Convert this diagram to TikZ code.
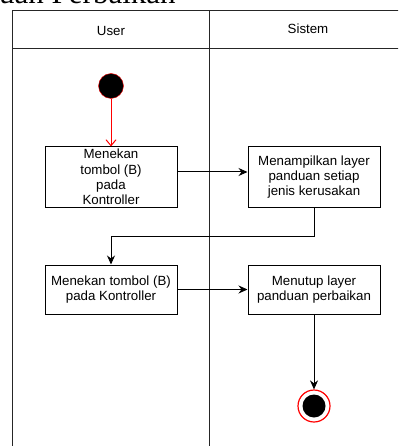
\documentclass[tikz,border=0pt]{standalone}
\usepackage{fontspec}
\setmainfont{Liberation Sans}
\newfontfamily\headfont{Liberation Serif}
\usetikzlibrary{arrows.meta}

\tikzset{
	actbox/.style = {draw = black,
					 line width = 1pt,
					 shape = rectangle,
					 minimum width = 132pt,
					 inner sep = 0pt,
					 align = center,
					 font = \fontsize{13.3}{15.2}\selectfont
					},
	lane/.style = {draw = black!85, line width = 1pt},
	flow/.style = {line width = 1pt, -{Stealth[length = 9pt, width = 8pt]}}
}

\begin{document}
\begin{tikzpicture}[x = 1pt, y = -1pt]
	\useasboundingbox (0, 0) rectangle (398, 446);
	\clip (0, 0) rectangle (398, 446);

	% heading, cut by the page edge
	\draw (-1, 4) node[anchor = base west,
					   inner sep = 0pt,
					   font = \headfont\fontsize{31}{31}\selectfont
				](head){uan Perbaikan};

	% swimlanes
	\draw[lane] (12, 460) -- (12, 11) -- (410, 11);
	\draw[lane] (12, 49) -- (410, 49);
	\draw[lane] (209, 11) -- (209, 460);
	\draw (111, 31) node[font = \fontsize{13.3}{15}\selectfont](user){User};
	\draw (308, 29) node[font = \fontsize{13.3}{15}\selectfont](sistem){Sistem};

	% start and end
	\draw (111, 86) node[draw = red,
						 fill = black,
						 shape = circle,
						 minimum size = 25pt,
						 inner sep = 0pt
				  ](start){};
	\draw (314, 406) node[draw = red,
						  line width = 1.2pt,
						  shape = circle,
						  minimum size = 32pt,
						  inner sep = 0pt
				  ](finish){};
	\fill (finish) circle (11.5);

	% activities
	\draw (111, 177) node[actbox,
						  minimum height = 60pt
				  ](tekan1){Menekan\\tombol (B)\\pada\\Kontroller};
	\draw (314, 177) node[actbox,
						  minimum height = 60pt
				  ](layer){Menampilkan layer\\panduan setiap\\jenis kerusakan};
	\draw (111, 289.5) node[actbox,
							minimum height = 49pt
				  ](tekan2){Menekan tombol (B)\\pada Kontroller};
	\draw (314, 289.5) node[actbox,
							minimum height = 49pt
				  ](tutup){Menutup layer\\panduan perbaikan};

	\coordinate (belok) at (314, 236);

	\draw[line width = 1pt, red, -{Straight Barb[length = 6pt, width = 10pt]}] (start) -- (tekan1);
	\draw[flow] (tekan1.east |- 0, 172) -- (layer.west |- 0, 172);

	\draw[flow] (layer) -- (belok) -| (tekan2);

	\draw[flow] (tekan2) -- (tutup);
	\draw[flow] (tutup) -- (finish);
\end{tikzpicture}
\end{document}
